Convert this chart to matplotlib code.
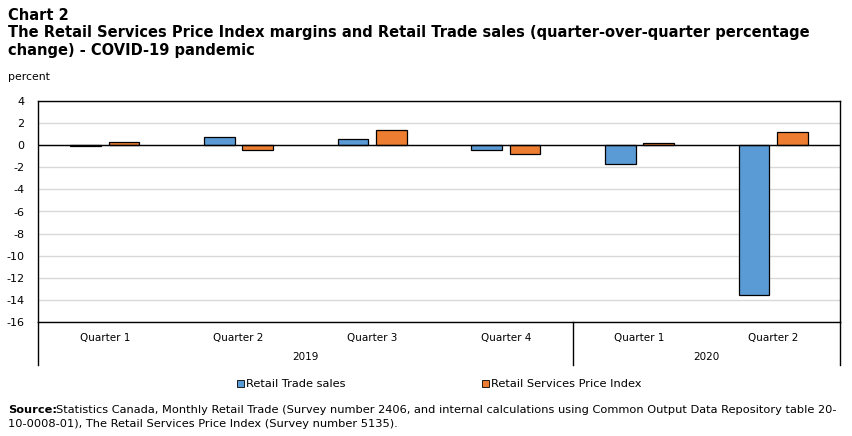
import numpy as np
import matplotlib
matplotlib.use("Agg")
import matplotlib.pyplot as plt

# Data
quarters = ["Quarter 1", "Quarter 2", "Quarter 3", "Quarter 4", "Quarter 1", "Quarter 2"]
years = ["2019", "2020"]
year_spans = [(0, 3), (4, 5)]
retail_sales = [-0.1, 0.7, 0.6, -0.4, -1.7, -13.6]
rspi = [0.3, -0.4, 1.4, -0.8, 0.2, 1.2]
series_names = ["Retail Trade sales", "Retail Services Price Index"]
colors = ["#5b9bd5", "#ed7d31"]

plt.rcParams['font.family'] = ['DejaVu Sans']
plt.rcParams['axes.unicode_minus'] = False

fig = plt.figure(figsize=(8.52, 4.36), dpi=100)
ax = fig.add_axes([38/852, 1 - 322/436, 802/852, 221/436])

x = np.arange(len(quarters))
w = 0.23
off = 0.143
ax.bar(x - off, retail_sales, w, color=colors[0], edgecolor="black", linewidth=0.9, zorder=3)
ax.bar(x + off, rspi, w, color=colors[1], edgecolor="black", linewidth=0.9, zorder=3)

ax.set_xlim(-0.5, 5.5)
ax.set_ylim(-16, 4)
ax.set_yticks(np.arange(-16, 5, 2))
ax.yaxis.grid(True, color="#d9d9d9", linewidth=1, zorder=0)
ax.axhline(0, color="black", linewidth=1, zorder=4)
for s in ax.spines.values():
    s.set_linewidth(1)
ax.tick_params(axis="y", length=0, labelsize=8, pad=10)
ax.set_xticks(x)
ax.set_xticklabels(quarters, fontsize=7.5)
ax.tick_params(axis="x", length=0, pad=8)

# year level of the category axis
trans = ax.get_xaxis_transform()
for xs in [-0.5, 3.5, 5.5]:
    ax.plot([xs, xs], [0, -0.195], color="black", linewidth=1, transform=trans, clip_on=False)
for yr, (a, b) in zip(years, year_spans):
    ax.text((a + b) / 2, -0.158, yr, transform=trans, ha="center", va="center", fontsize=7.5)

# titles
tkw = dict(fontsize=10.5, fontweight="bold", va="center", ha="left")
fig.text(8/852, 1 - 16/436, "Chart 2", **tkw)
fig.text(8/852, 1 - 33/436, "The Retail Services Price Index margins and Retail Trade sales (quarter-over-quarter percentage", **tkw)
fig.text(8/852, 1 - 50/436, "change) - COVID-19 pandemic", **tkw)
fig.text(8/852, 1 - 77/436, "percent", fontsize=7.8, va="center", ha="left")

# legend
for i, (name, c) in enumerate(zip(series_names, colors)):
    lx = [237, 482][i]
    fig.patches.append(plt.Rectangle((lx/852, 1 - 387/436), 7/852, 7/436, facecolor=c,
                                     edgecolor="black", linewidth=0.6, transform=fig.transFigure))
    fig.text((lx + 9)/852, 1 - 384/436, name, fontsize=8.2, va="center", ha="left")

# source
fig.text(8/852, 1 - 410/436, "Source:", fontsize=8.2, fontweight="bold", va="center", ha="left")
fig.text(56/852, 1 - 410/436, "Statistics Canada, Monthly Retail Trade (Survey number 2406, and internal calculations using Common Output Data Repository table 20-",
         fontsize=8.2, va="center", ha="left")
fig.text(8/852, 1 - 424/436, "10-0008-01), The Retail Services Price Index (Survey number 5135).",
         fontsize=8.2, va="center", ha="left")

fig.savefig("out.png", dpi=100)
